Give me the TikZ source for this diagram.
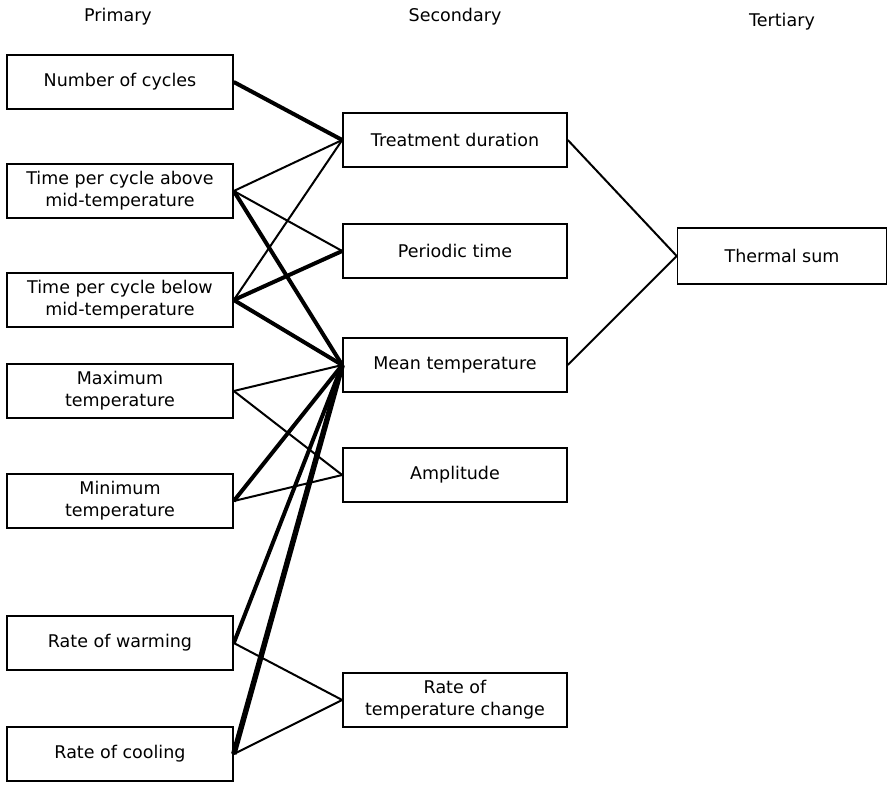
\documentclass[tikz,border=0pt]{standalone}
\usepackage{fontspec}
\setmainfont{DejaVu Sans}
\usepackage{tikz}
\usetikzlibrary{positioning}

\begin{document}
\begin{tikzpicture}[x=1pt,y=-1pt,
  factor/.style={draw,line width=1.6pt,minimum height=54pt,align=center,
    font=\fontsize{17.5}{22}\selectfont,inner sep=2pt},
  prim/.style={factor,minimum width=226pt},
  secd/.style={factor,minimum width=224pt},
  head/.style={font=\fontsize{17.5}{22}\selectfont},
  thin/.style={line width=2pt},
  heavy/.style={line width=4pt},
  heavier/.style={line width=5.5pt}]
  \useasboundingbox (0,0) rectangle (895,785);
  % column headings
  \node[head] (hp) at (118,17) {Primary};
  \node[head] (hs) at (455,17) {Secondary};
  \node[head] (ht) at (782,22) {Tertiary};
  % primary factors
  \foreach \n/\y/\t in {cyc/82/Number of cycles,
      above/191/Time per cycle above\\mid-temperature,
      below/300/Time per cycle below\\mid-temperature,
      tmax/391/Maximum\\temperature,
      tmin/501/Minimum\\temperature,
      warm/643/Rate of warming,
      cool/754/Rate of cooling}{
    \node[prim] (\n) at (120,\y) {\t};}
  % secondary factors
  \foreach \n/\y/\t in {dur/140/Treatment duration,
      per/251/Periodic time,
      mean/365/Mean temperature,
      amp/475/Amplitude,
      rate/700/Rate of\\temperature change}{
    \node[secd] (\n) at (455,\y) {\t};}
  \node[factor,minimum width=209pt,minimum height=56pt] (sum) at (782,256) {Thermal sum};
  % links primary -> secondary
  \foreach \a/\b/\w in {cyc/dur/heavy,above/dur/thin,above/per/thin,above/mean/heavy,
      below/dur/thin,below/per/heavy,below/mean/heavy,
      tmax/mean/thin,tmax/amp/thin,tmin/mean/heavy,tmin/amp/thin,
      warm/mean/heavy,warm/rate/thin,cool/mean/heavier,cool/rate/thin}{
    \draw[\w] (\a.east) -- (\b.west);}
  % links secondary -> tertiary
  \draw[thin] (dur.east) -- (sum.west);
  \draw[thin] (mean.east) -- (sum.west);
\end{tikzpicture}
\end{document}
